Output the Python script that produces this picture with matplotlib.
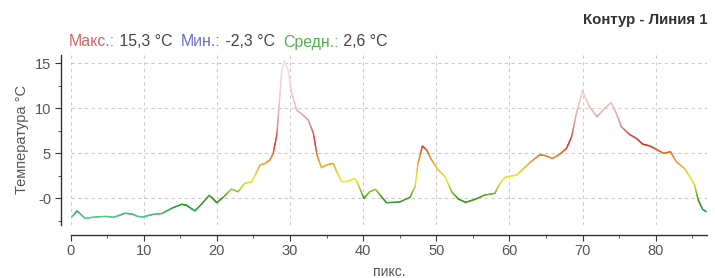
import numpy as np
import matplotlib.pyplot as plt
from matplotlib.collections import LineCollection
from matplotlib.colors import LinearSegmentedColormap, Normalize
from matplotlib.ticker import MultipleLocator

plt.rcParams['font.family'] = ['Liberation Sans', 'DejaVu Sans']

# profile along the line (pixel index -> temperature, degC)
px = [0.2, 0.9, 2.0, 3.0, 4.0, 5.0, 5.85, 6.6, 7.45, 8.4, 9.2, 9.95, 10.6, 11.3,
      12.5, 13.8, 15.2, 15.8, 16.4, 17.0, 18.0, 18.95, 19.5, 20.0, 20.9, 22.0,
      22.9, 23.8, 24.75, 25.4, 25.9, 26.6, 27.25, 27.7, 28.2, 28.5, 28.85, 29.2,
      29.75, 30.2, 30.9, 31.8, 32.5, 33.2, 33.7, 34.3, 35.0, 35.9, 36.4, 37.0,
      37.95, 38.9, 39.45, 40.1, 40.9, 41.7, 42.5, 43.2, 45.0, 46.4, 47.1, 47.5,
      48.1, 48.7, 49.3, 50.2, 51.2, 52.1, 53.0, 54.0, 55.3, 56.6, 58.0, 58.7,
      59.4, 61.0, 62.8, 64.1, 64.8, 65.9, 66.9, 67.8, 68.5, 69.15, 69.97, 70.97,
      71.97, 73.0, 73.9, 74.6, 75.3, 76.4, 77.35, 78.2, 79.2, 80.1, 81.1, 82.0,
      82.8, 83.9, 84.6, 85.3, 85.8, 86.4, 86.9]
temp = [-2.08, -1.44, -2.26, -2.15, -2.07, -2.05, -2.15, -1.95, -1.7, -1.78, -2.05,
        -2.1, -1.95, -1.82, -1.72, -1.15, -0.7, -0.78, -1.1, -1.44, -0.6, 0.3, -0.1,
        -0.52, 0.1, 1.0, 0.7, 1.63, 1.81, 2.8, 3.67, 3.85, 4.22, 4.96, 7.0, 10.1,
        14.0, 15.3, 14.2, 11.8, 9.8, 9.2, 8.67, 7.2, 4.78, 3.37, 3.67, 3.85, 2.93,
        1.89, 1.89, 2.19, 1.26, -0.03, 0.7, 0.96, 0.15, -0.52, -0.44, 0.08, 1.26,
        3.85, 5.78, 5.33, 4.3, 3.19, 2.37, 0.7, -0.11, -0.48, -0.15, 0.33, 0.52,
        1.63, 2.3, 2.56, 3.95, 4.78, 4.74, 4.4, 4.89, 5.52, 6.81, 9.41, 11.9, 10.1,
        9.04, 9.96, 10.6, 9.41, 7.92, 7.07, 6.63, 6.0, 5.78, 5.41, 4.96, 5.15, 4.04,
        3.3, 2.44, 1.44, -0.22, -1.26, -1.52]

title = 'Контур - Линия 1'
stats = [('Макс.:', '#cc6666'), (' 15,3 °C  ', '#444444'),
         ('Мин.:', '#6a6acc'), (' -2,3 °C  ', '#444444'),
         ('Средн.:', '#55b055'), (' 2,6 °C', '#444444')]
ytick_vals = [0, 5, 10, 15]
ytick_labels = ['-0', '5', '10', '15']

# temperature colour scale: teal-green -> yellow -> orange -> red -> pale pink
tmin, tmax = -2.3, 15.3
stops = [(-2.3, '#62cc9e'), (-1.0, '#1f9c3c'), (0.0, '#4a9a14'), (1.0, '#a6cf3e'),
         (2.0, '#eeee22'), (3.5, '#f2b436'), (4.8, '#e87a28'), (6.0, '#d83222'),
         (7.0, '#d85050'), (8.0, '#e08888'), (9.5, '#eeb0b0'), (11.0, '#f4c4c4'),
         (15.3, '#fde4e4')]
cmap = LinearSegmentedColormap.from_list(
    'temp', [((v - tmin) / (tmax - tmin), c) for v, c in stops])

fig = plt.figure(figsize=(7.15, 2.78), dpi=100)
ax = fig.add_axes([70.5 / 715, 1 - 225 / 278, (707 - 70.5) / 715, 170 / 278])

# split each segment finely so the colour follows the value smoothly
xs, ys = [], []
for i in range(len(px) - 1):
    t = np.linspace(0, 1, 12, endpoint=False)
    xs.extend(px[i] + (px[i + 1] - px[i]) * t)
    ys.extend(temp[i] + (temp[i + 1] - temp[i]) * t)
xs.append(px[-1]); ys.append(temp[-1])
xs = np.array(xs); ys = np.array(ys)
pts = np.column_stack([xs, ys]).reshape(-1, 1, 2)
segs = np.concatenate([pts[:-1], pts[1:]], axis=1)
lc = LineCollection(segs, cmap=cmap, norm=Normalize(tmin, tmax), linewidth=1.0,
                    capstyle='round', joinstyle='round')
lc.set_array((ys[:-1] + ys[1:]) / 2)
ax.add_collection(lc)

ax.set_xlim(0, 87)
ax.set_ylim(-3.0, 15.9)
ax.set_yticks(ytick_vals)
ax.set_yticklabels(ytick_labels)
ax.xaxis.set_major_locator(MultipleLocator(10))
ax.xaxis.set_minor_locator(MultipleLocator(5))
ax.yaxis.set_minor_locator(MultipleLocator(2.5))

ax.grid(True, which='major', color='#cccccc', linestyle=(0, (3, 3)), linewidth=0.8)
for side in ['top', 'right']:
    ax.spines[side].set_visible(False)
for side in ['left', 'bottom']:
    ax.spines[side].set_position(('outward', 7))
    ax.spines[side].set_color('#333333')
    ax.spines[side].set_linewidth(1.0)

ax.tick_params(which='major', length=4, color='#333333', labelcolor='#555555',
               labelsize=10.5, pad=3)
ax.tick_params(which='minor', length=2.5, color='#333333')

ax.set_xlabel('пикс.', fontsize=10, color='#555555', labelpad=5)
ax.set_ylabel('Температура °C', fontsize=10.5, color='#555555', labelpad=4)

fig.text(708 / 715, 1 - 20 / 278, title, ha='right', va='center',
         fontsize=10.8, fontweight='bold', color='#333333')

# multi-coloured stats line, each piece placed right after the previous one
prev = fig.text(69 / 715, 1 - 42 / 278, stats[0][0], color=stats[0][1],
                fontsize=11.4, va='center', ha='left')
for s, c in stats[1:]:
    prev = ax.annotate(s, xy=(1, 0), xycoords=prev, va='bottom', ha='left',
                       color=c, fontsize=11.4)

fig.savefig('out.png', dpi=100)
